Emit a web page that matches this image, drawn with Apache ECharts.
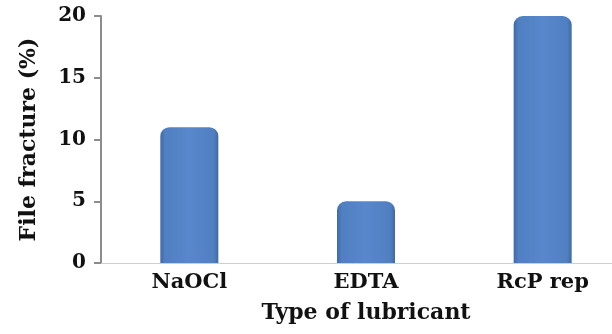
<!DOCTYPE html>
<html><head><meta charset="utf-8">
<script src="https://cdn.jsdelivr.net/npm/echarts@6/dist/echarts.min.js"></script>
<style>html,body{margin:0;padding:0;background:#fff}#c{width:612px;height:334px}</style>
</head><body><div id="c"></div>
<script>
var categories = ["NaOCl", "EDTA", "RcP rep"];
var values = [11, 5, 20];
var yTicks = [0, 5, 10, 15, 20];
var font = "'DejaVu Serif', 'Liberation Serif', serif";
var chart = echarts.init(document.getElementById('c'));
chart.setOption({
  animation: false,
  grid: {left: 101, top: 16, bottom: 71, width: 530, containLabel: false, outerBoundsMode: 'none'},
  xAxis: {
    type: 'category', data: categories,
    name: 'Type of lubricant', nameLocation: 'middle', nameGap: 39,
    nameTextStyle: {fontFamily: font, fontWeight: 'bold', fontSize: 22, color: '#111'},
    axisLine: {lineStyle: {color: '#cfcfcf', width: 1}},
    axisTick: {show: false},
    axisLabel: {fontFamily: font, fontWeight: 'bold', fontSize: 21, color: '#111', margin: 9}
  },
  yAxis: {
    type: 'value', min: yTicks[0], max: yTicks[yTicks.length-1], interval: 5,
    name: 'File fracture (%)', nameLocation: 'middle', nameGap: 61, nameRotate: 90,
    nameTextStyle: {fontFamily: font, fontWeight: 'bold', fontSize: 22, color: '#111'},
    axisLine: {show: true, lineStyle: {color: '#8c8c8c', width: 2}},
    axisTick: {show: true, length: 7, lineStyle: {color: '#8c8c8c', width: 2}},
    splitLine: {show: false},
    axisLabel: {fontFamily: font, fontWeight: 'bold', fontSize: 20, color: '#111', margin: 15}
  },
  series: [{
    type: 'bar', data: values, barWidth: 58,
    itemStyle: {
      borderRadius: [9, 9, 0, 0],
      color: new echarts.graphic.LinearGradient(0, 0, 1, 0, [
        {offset: 0, color: '#3e69a6'},
        {offset: 0.08, color: '#5080c2'},
        {offset: 0.5, color: '#5888cb'},
        {offset: 0.92, color: '#5080c2'},
        {offset: 1, color: '#3e69a6'}
      ])
    }
  }]
});
</script></body></html>
